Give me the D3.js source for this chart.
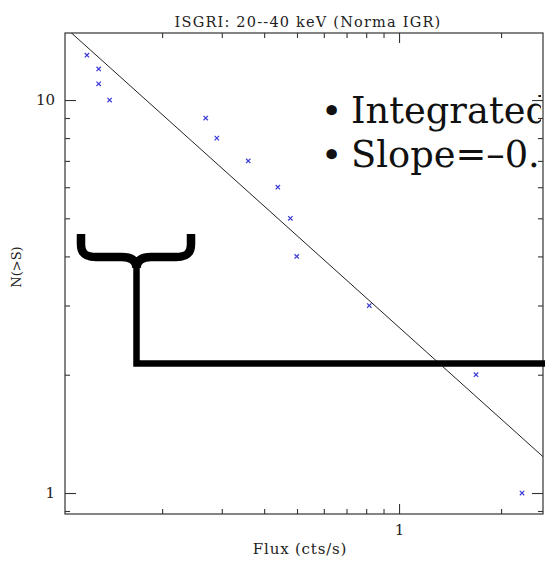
<!DOCTYPE html>
<html>
<head>
<meta charset="utf-8">
<script src="https://cdn.jsdelivr.net/npm/d3@7"></script>
<style>
  body { margin: 0; background: #fff; }
  svg { display: block; }
</style>
</head>
<body>
<div id="chart"></div>
<script>
"use strict";

// == DATA ==
var title = "ISGRI: 20--40 keV (Norma IGR)";
var xLabel = "Flux (cts/s)";
var yLabel = "N(>S)";

// source fluxes and cumulative counts N(>S)
var flux = [0.12, 0.13, 0.13, 0.14, 0.269, 0.29, 0.359, 0.439, 0.478, 0.499, 0.817, 1.687, 2.306];
var counts = [13, 12, 11, 10, 9, 8, 7, 6, 5, 4, 3, 2, 1];

// power-law fit  N = norm * S^slope
var fitSlope = -0.775;
var fitNorm = 2.64;

// ticks
var xMajor = [1];
var xMinor = [0.2, 0.3, 0.4, 0.5, 0.6, 0.7, 0.8, 0.9, 2];
var yMajor = [1, 10];
var yMinor = [0.9, 2, 3, 4, 5, 6, 7, 8, 9];

var bullets = ["Integrated", "Slope=\u20130."];

// == BOILERPLATE ==
var W = 545, H = 562;
var plot = { left: 65, top: 33, right: 543, bottom: 514 };

var svg = d3.select("#chart").append("svg")
  .attr("width", W).attr("height", H);

var x = d3.scaleLog().domain([0.1034, 2.659]).range([plot.left, plot.right]);
var y = d3.scaleLog().domain([0.8843, 14.81]).range([plot.bottom, plot.top]);

var serif = "'DejaVu Serif', serif";

svg.append("clipPath").attr("id", "plotclip")
  .append("rect")
  .attr("x", plot.left).attr("y", plot.top)
  .attr("width", plot.right - plot.left).attr("height", plot.bottom - plot.top);

// frame
svg.append("rect")
  .attr("x", plot.left).attr("y", plot.top)
  .attr("width", plot.right - plot.left).attr("height", plot.bottom - plot.top)
  .attr("fill", "none").attr("stroke", "#333").attr("stroke-width", 1.2);

// axes, ticks pointing inward
function styleAxis(g) {
  g.select(".domain").remove();
  g.selectAll("line").attr("stroke", "#333").attr("stroke-width", 1.1);
  g.selectAll("text").attr("font-family", serif).attr("font-size", 15).attr("fill", "#222");
}
var fmt = function(d) { return String(d); };

svg.append("g").attr("transform", "translate(0," + plot.bottom + ")")
  .call(d3.axisBottom(x).tickValues(xMajor).tickSize(-10).tickPadding(10).tickFormat(fmt)).call(styleAxis);
svg.append("g").attr("transform", "translate(0," + plot.bottom + ")")
  .call(d3.axisBottom(x).tickValues(xMinor).tickSize(-5).tickFormat("")).call(styleAxis);
svg.append("g").attr("transform", "translate(0," + plot.top + ")")
  .call(d3.axisTop(x).tickValues(xMajor).tickSize(-10).tickFormat("")).call(styleAxis);
svg.append("g").attr("transform", "translate(0," + plot.top + ")")
  .call(d3.axisTop(x).tickValues(xMinor).tickSize(-5).tickFormat("")).call(styleAxis);

svg.append("g").attr("transform", "translate(" + plot.left + ",0)")
  .call(d3.axisLeft(y).tickValues(yMajor).tickSize(-11).tickPadding(10).tickFormat(fmt)).call(styleAxis);
svg.append("g").attr("transform", "translate(" + plot.left + ",0)")
  .call(d3.axisLeft(y).tickValues(yMinor).tickSize(-5).tickFormat("")).call(styleAxis);
svg.append("g").attr("transform", "translate(" + plot.right + ",0)")
  .call(d3.axisRight(y).tickValues(yMajor).tickSize(-11).tickFormat("")).call(styleAxis);
svg.append("g").attr("transform", "translate(" + plot.right + ",0)")
  .call(d3.axisRight(y).tickValues(yMinor).tickSize(-5).tickFormat("")).call(styleAxis);

// titles
svg.append("text").attr("x", 308).attr("y", 27)
  .attr("text-anchor", "middle").attr("font-family", serif).attr("font-size", 14.5)
  .attr("letter-spacing", 1.2).attr("fill", "#222").text(title);
svg.append("text").attr("x", 300).attr("y", 554)
  .attr("text-anchor", "middle").attr("font-family", serif).attr("font-size", 15)
  .attr("letter-spacing", 0.8).attr("fill", "#222").text(xLabel);
svg.append("text").attr("transform", "translate(21,267) rotate(-90)")
  .attr("text-anchor", "middle").attr("font-family", serif).attr("font-size", 13)
  .attr("fill", "#222").text(yLabel);

// fit line
var xd = x.domain();
var fit = xd.map(function(s) { return { s: s, n: fitNorm * Math.pow(s, fitSlope) }; });
svg.append("path").datum(fit)
  .attr("clip-path", "url(#plotclip)")
  .attr("d", d3.line().x(function(d) { return x(d.s); }).y(function(d) { return y(d.n); }))
  .attr("fill", "none").attr("stroke", "#222").attr("stroke-width", 1);

// data points (x markers)
var pts = flux.map(function(s, i) { return { s: s, n: counts[i] }; });
svg.append("g").selectAll("path").data(pts).enter().append("path")
  .attr("transform", function(d) { return "translate(" + x(d.s) + "," + y(d.n) + ")"; })
  .attr("d", "M-2.2,-2.2L2.2,2.2M-2.2,2.2L2.2,-2.2")
  .attr("stroke", "#3a3ad6").attr("stroke-width", 1.2);

// overlay: brace + connector
var brace = d3.path();
brace.moveTo(81, 234);
brace.lineTo(81, 244);
brace.bezierCurveTo(81, 254, 86, 257, 96, 257);
brace.lineTo(122, 257);
brace.bezierCurveTo(132, 257, 136.5, 261, 136.5, 268);
brace.bezierCurveTo(136.5, 261, 141, 257, 151, 257);
brace.lineTo(176, 257);
brace.bezierCurveTo(186, 257, 191, 254, 191, 244);
brace.lineTo(191, 234);
svg.append("path").attr("d", brace.toString())
  .attr("fill", "none").attr("stroke", "#000").attr("stroke-width", 8.5);

svg.append("path")
  .attr("d", "M136.5,262V363.5H545")
  .attr("fill", "none").attr("stroke", "#000").attr("stroke-width", 6.5);

// overlay: bullet text, cut at the frame edge as in the source slide
svg.append("clipPath").attr("id", "textclip")
  .append("rect").attr("x", 0).attr("y", 0).attr("width", 541).attr("height", H);
var tg = svg.append("g").attr("clip-path", "url(#textclip)");
bullets.forEach(function(t, i) {
  var by = 123 + i * 44;
  tg.append("text").attr("x", 331.5).attr("y", by).attr("text-anchor", "middle")
    .attr("font-family", serif).attr("font-size", 36).attr("fill", "#111").text("\u2022");
  tg.append("text").attr("x", 351).attr("y", by)
    .attr("font-family", serif).attr("font-size", 36.8).attr("fill", "#111").text(t);
});
</script>
</body>
</html>
